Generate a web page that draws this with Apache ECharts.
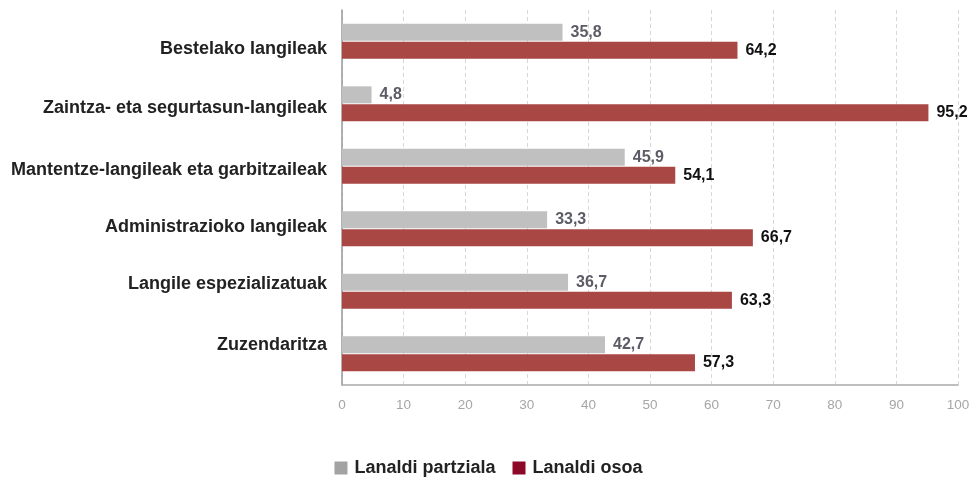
<!DOCTYPE html>
<html>
<head>
<meta charset="utf-8">
<script src="https://cdn.jsdelivr.net/npm/echarts@6/dist/echarts.min.js"></script>
<style>
  html, body { margin: 0; padding: 0; background: #fff; }
  #chart { width: 977px; height: 484px; }
</style>
</head>
<body>
<div id="chart"></div>
<script>
// Occupational groups, listed top to bottom
const categories = [
  'Bestelako langileak',
  'Zaintza- eta segurtasun-langileak',
  'Mantentze-langileak eta garbitzaileak',
  'Administrazioko langileak',
  'Langile espezializatuak',
  'Zuzendaritza'
];
// Share of staff (%) by working-day type
const partTime = [35.8, 4.8, 45.9, 33.3, 36.7, 42.7];
const fullTime = [64.2, 95.2, 54.1, 66.7, 63.3, 57.3];
const xTicks = { min: 0, max: 100, interval: 10 };

// Vertical nudge (px, positive = down) for each category label
const labelShift = [8, 4, 4, -2, -7, -9];

const fmt = p => String(p.value).replace('.', ',');

const rich = {};
labelShift.forEach((s, i) => {
  rich['c' + i] = {
    color: '#222', fontFamily: 'Liberation Sans', fontWeight: 'bold', fontSize: 18,
    padding: s >= 0 ? [2 * s, 0, 0, 0] : [0, 0, -2 * s, 0]
  };
});

const chart = echarts.init(document.getElementById('chart'));
chart.setOption({
  animation: false,
  grid: { left: 342, right: 19, top: 10, bottom: 99, containLabel: false },
  legend: {
    bottom: 2,
    left: 'center',
    itemWidth: 13,
    itemHeight: 13,
    itemGap: 17,
    icon: 'rect',
    textStyle: { fontFamily: 'Liberation Sans', fontWeight: 'bold', fontSize: 18, color: '#222', padding: [0, 0, 0, 2] },
    data: [
      { name: 'Lanaldi partziala', itemStyle: { color: '#a3a3a3' } },
      { name: 'Lanaldi osoa', itemStyle: { color: '#8c0a28' } }
    ]
  },
  xAxis: {
    type: 'value',
    min: xTicks.min, max: xTicks.max, interval: xTicks.interval,
    axisLine: { show: true, lineStyle: { color: '#aaa', width: 1.5 } },
    axisTick: { show: false },
    axisLabel: { color: '#a6a6a6', fontFamily: 'Liberation Sans', fontSize: 13.5, margin: 13 },
    splitLine: { show: true, lineStyle: { color: '#d8d8d8', type: [4, 3] } }
  },
  yAxis: {
    type: 'category',
    inverse: true,
    data: categories,
    axisLine: { show: true, lineStyle: { color: '#999', width: 1.5 } },
    axisTick: { show: false },
    axisLabel: {
      margin: 15,
      formatter: (v, i) => '{c' + i + '|' + v + '}',
      rich: rich
    }
  },
  series: [
    {
      name: 'Lanaldi partziala',
      type: 'bar',
      data: partTime,
      barWidth: 17,
      barGap: '5%',
      itemStyle: { color: '#c0c0c0' },
      label: {
        show: true, position: 'right', distance: 8, formatter: fmt,
        color: '#5c5c66', fontFamily: 'Liberation Sans', fontWeight: 'bold', fontSize: 16
      }
    },
    {
      name: 'Lanaldi osoa',
      type: 'bar',
      data: fullTime,
      barWidth: 17,
      itemStyle: { color: '#a94745' },
      label: {
        show: true, position: 'right', distance: 8, formatter: fmt,
        color: '#111', fontFamily: 'Liberation Sans', fontWeight: 'bold', fontSize: 16
      }
    }
  ]
});
</script>
</body>
</html>
